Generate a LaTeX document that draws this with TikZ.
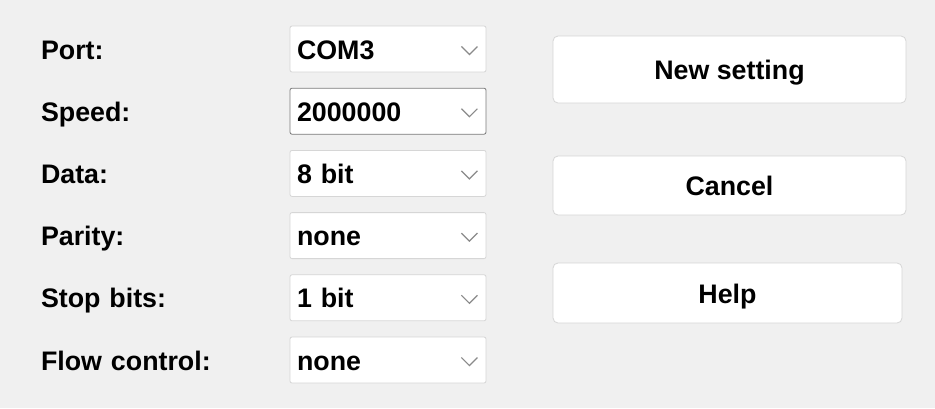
\documentclass[tikz,border=0pt]{standalone}
\usepackage{fontspec}
\setmainfont{Liberation Sans}
\usetikzlibrary{shapes.geometric, arrows}

\definecolor{winbg}{HTML}{F0F0F0}
\definecolor{boxline}{HTML}{D6D6D6}
\definecolor{focusline}{HTML}{7A7A7A}
\definecolor{chevgray}{HTML}{8A8A8A}

\begin{document}
\begin{tikzpicture}[x=1pt, y=1pt, node distance=31.1pt, every node/.style={font=\fontsize{13.4}{16}\selectfont\bfseries, text height=12pt, text depth=2pt}]

% Define styles for the dialog
\tikzstyle{label} = [rectangle, text width=100pt, align=left, inner sep=0pt]
\tikzstyle{combo} = [rectangle, rounded corners=1pt, minimum width=98pt, minimum height=23pt, inner xsep=3.5pt, text width=91pt, align=left, draw=boxline, fill=white]
\tikzstyle{focused} = [draw=focusline]
\tikzstyle{button} = [rectangle, rounded corners=2.5pt, minimum width=176.5pt, text centered, draw=boxline, fill=white]
\tikzstyle{chev} = [chevgray, line width=0.6pt]

% Background
\fill[winbg] (0,0) rectangle (467.5,-204);

% Labels
\node (port) [label] at (70.5,-24.5) {Port:};
\node (speed) [label, below of=port] {Speed:};
\node (data) [label, below of=speed] {Data:};
\node (parity) [label, below of=data] {Parity:};
\node (stop) [label, below of=parity] {Stop bits:};
\node (flow) [label, below of=stop] {Flow control:};

% Combo boxes
\node (portbox) [combo] at (194,-24.5) {COM3};
\node (speedbox) [combo, focused, below of=portbox] {2000000};
\node (databox) [combo, below of=speedbox] {8 bit};
\node (paritybox) [combo, below of=databox] {none};
\node (stopbox) [combo, below of=paritybox] {1 bit};
\node (flowbox) [combo, below of=stopbox] {none};

% Drop-down arrows
\foreach \b in {portbox, speedbox, databox, paritybox, stopbox, flowbox}
  \draw [chev] ([xshift=-12.5pt, yshift=1.25pt]\b.east) -- ++(4pt,-4pt) -- ++(4pt,4pt);

% Buttons
\node (newset) [button, minimum height=33.5pt] at (364.75,-34.75) {New setting};
\node (cancel) [button, minimum height=29.5pt, below of=newset, node distance=58pt] {Cancel};
\node (help) [button, minimum width=174.5pt, minimum height=30pt, below of=cancel, node distance=53.75pt, xshift=-1pt] {Help};

\end{tikzpicture}
\end{document}
